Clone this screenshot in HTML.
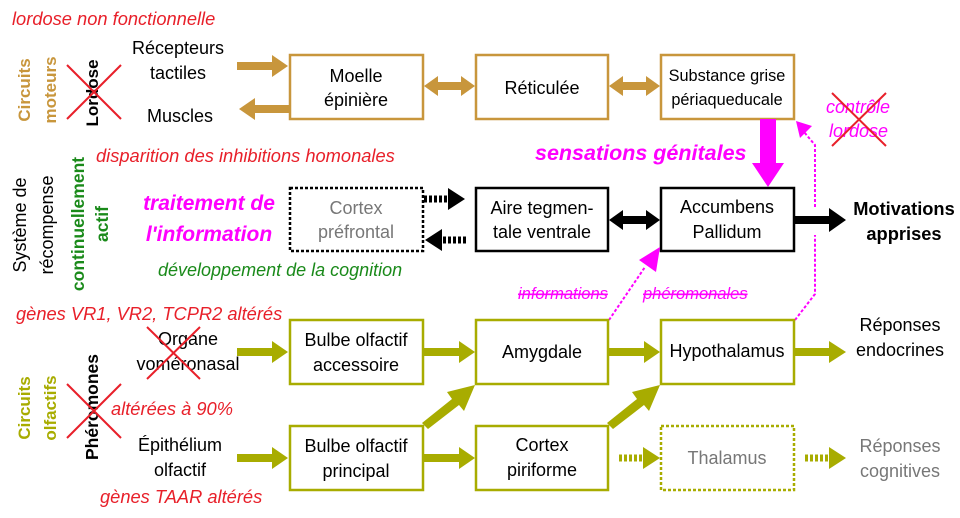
<!DOCTYPE html>
<html><head><meta charset="utf-8"><style>
html,body{margin:0;padding:0;background:#fff;}
svg{display:block;}
text{font-family:"Liberation Sans",Arial,sans-serif;}
</style></head><body>
<svg width="960" height="518" viewBox="0 0 960 518" xmlns="http://www.w3.org/2000/svg">
<g font-size="18">
<text x="12" y="25" fill="#e8202a" font-style="italic" font-size="18.3">lordose non fonctionnelle</text>

<text transform="translate(30,90) rotate(-90)" text-anchor="middle" fill="#c8963c" font-weight="bold" font-size="17">Circuits</text>
<text transform="translate(56,90) rotate(-90)" text-anchor="middle" fill="#c8963c" font-weight="bold" font-size="17">moteurs</text>
<text transform="translate(98,93) rotate(-90)" text-anchor="middle" fill="#000" font-weight="bold" font-size="17">Lordose</text>
<line x1="67" y1="65" x2="121" y2="119" stroke="#e8202a" stroke-width="2"/>
<line x1="121" y1="65" x2="67" y2="119" stroke="#e8202a" stroke-width="2"/>

<text x="178" y="54" text-anchor="middle">Récepteurs</text>
<text x="178" y="79" text-anchor="middle">tactiles</text>
<text x="180" y="122" text-anchor="middle">Muscles</text>

<g fill="#fff" stroke="#c8963c" stroke-width="2.5">
<rect x="290" y="55" width="133" height="64"/>
<rect x="476" y="55" width="132" height="64"/>
<rect x="661" y="55" width="133" height="64"/>
</g>
<text x="356" y="82" text-anchor="middle">Moelle</text>
<text x="356" y="106" text-anchor="middle">épinière</text>
<text x="542" y="94" text-anchor="middle">Réticulée</text>
<text x="727" y="81" text-anchor="middle" font-size="16.3">Substance grise</text>
<text x="727" y="105" text-anchor="middle" font-size="16.3">périaqueducale</text>

<g fill="#c8963c">
<polygon points="237,62 272,62 272,55 288,66 272,77 272,70 237,70"/>
<polygon points="290,105 255,105 255,98 239,109 255,120 255,113 290,113"/>
<polygon points="424,86 438,76 438,82 461,82 461,76 475,86 461,96 461,90 438,90 438,96"/>
<polygon points="609,86 623,76 623,82 646,82 646,76 660,86 646,96 646,90 623,90 623,96"/>
</g>

<text x="96" y="162" fill="#e8202a" font-style="italic" font-size="18.3">disparition des inhibitions homonales</text>
<text x="535" y="160" fill="#ff00ff" font-style="italic" font-weight="bold" font-size="21.5">sensations génitales</text>
<polygon points="760,119 776,119 776,163 784,163 768,187 752,163 760,163" fill="#ff00ff"/>

<text x="826" y="113" fill="#ff00ff" font-style="italic" font-size="18">contrôle</text>
<text x="829" y="137" fill="#ff00ff" font-style="italic" font-size="18">lordose</text>
<line x1="832" y1="93" x2="886" y2="146" stroke="#e8202a" stroke-width="2"/>
<line x1="886" y1="93" x2="832" y2="146" stroke="#e8202a" stroke-width="2"/>

<text transform="translate(26,225) rotate(-90)" text-anchor="middle" font-size="18">Système de</text>
<text transform="translate(53,225) rotate(-90)" text-anchor="middle" font-size="18">récompense</text>
<text transform="translate(84,224) rotate(-90)" text-anchor="middle" fill="#1a8a1a" font-weight="bold" font-size="17.5">continuellement</text>
<text transform="translate(108,224) rotate(-90)" text-anchor="middle" fill="#1a8a1a" font-weight="bold" font-size="17.5">actif</text>

<text x="209" y="210" text-anchor="middle" fill="#ff00ff" font-style="italic" font-weight="bold" font-size="21">traitement de</text>
<text x="209" y="241" text-anchor="middle" fill="#ff00ff" font-style="italic" font-weight="bold" font-size="21">l'information</text>
<text x="158" y="276" fill="#1a8a1a" font-style="italic" font-size="18">développement de la cognition</text>

<rect x="290" y="188" width="133" height="63" fill="#fff" stroke="#000" stroke-width="2.5" stroke-dasharray="3,2"/>
<rect x="476" y="188" width="132" height="63" fill="#fff" stroke="#000" stroke-width="2.5"/>
<rect x="661" y="188" width="133" height="63" fill="#fff" stroke="#000" stroke-width="2.5"/>
<text x="356" y="214" text-anchor="middle" fill="#777">Cortex</text>
<text x="356" y="238" text-anchor="middle" fill="#777">préfrontal</text>
<text x="542" y="214" text-anchor="middle">Aire tegmen-</text>
<text x="542" y="238" text-anchor="middle">tale ventrale</text>
<text x="727" y="213" text-anchor="middle">Accumbens</text>
<text x="727" y="238" text-anchor="middle">Pallidum</text>

<line x1="424" y1="199" x2="448" y2="199" stroke="#000" stroke-width="7" stroke-dasharray="3,2"/>
<polygon points="448,188 465,199 448,210" fill="#000"/>
<line x1="466" y1="240" x2="442" y2="240" stroke="#000" stroke-width="7" stroke-dasharray="3,2"/>
<polygon points="442,229 425,240 442,251" fill="#000"/>
<polygon points="609,220 623,210 623,216 646,216 646,210 660,220 646,230 646,224 623,224 623,230" fill="#000"/>
<polygon points="795,216 829,216 829,208 846,220 829,232 829,224 795,224" fill="#000"/>
<text x="904" y="215" text-anchor="middle" font-weight="bold" font-size="18.3">Motivations</text>
<text x="904" y="240" text-anchor="middle" font-weight="bold" font-size="18.3">apprises</text>

<polyline points="609,320 645,267" fill="none" stroke="#ff00ff" stroke-width="2" stroke-dasharray="3,2"/>
<polygon points="660,247 656,272 639,260" fill="#ff00ff"/>
<polyline points="795,320 815,294 815,235" fill="none" stroke="#ff00ff" stroke-width="2" stroke-dasharray="3,2"/>
<polyline points="815,207 815,145 804,132" fill="none" stroke="#ff00ff" stroke-width="2" stroke-dasharray="3,2"/>
<polygon points="796,121 812,126 800,138" fill="#ff00ff"/>
<text x="518" y="299" fill="#ff00ff" font-style="italic" font-size="16.5" text-decoration="line-through">informations</text>
<text x="643" y="299" fill="#ff00ff" font-style="italic" font-size="16.5" text-decoration="line-through">phéromonales</text>

<text x="16" y="320" fill="#e8202a" font-style="italic" font-size="18.3">gènes VR1, VR2, TCPR2 altérés</text>
<text x="188" y="345" text-anchor="middle">Organe</text>
<text x="188" y="370" text-anchor="middle">voméronasal</text>
<line x1="147" y1="327" x2="200" y2="379" stroke="#e8202a" stroke-width="2"/>
<line x1="200" y1="327" x2="147" y2="379" stroke="#e8202a" stroke-width="2"/>

<text transform="translate(30,408) rotate(-90)" text-anchor="middle" fill="#a8ac00" font-weight="bold" font-size="17">Circuits</text>
<text transform="translate(56,408) rotate(-90)" text-anchor="middle" fill="#a8ac00" font-weight="bold" font-size="17">olfactifs</text>
<text transform="translate(98,407) rotate(-90)" text-anchor="middle" fill="#000" font-weight="bold" font-size="17.5">Phéromones</text>
<line x1="67" y1="384" x2="121" y2="438" stroke="#e8202a" stroke-width="2"/>
<line x1="121" y1="384" x2="67" y2="438" stroke="#e8202a" stroke-width="2"/>
<text x="111" y="415" fill="#e8202a" font-style="italic" font-size="18.3">altérées à 90%</text>
<text x="180" y="451" text-anchor="middle">Épithélium</text>
<text x="180" y="476" text-anchor="middle">olfactif</text>
<text x="100" y="503" fill="#e8202a" font-style="italic" font-size="18.3">gènes TAAR altérés</text>

<g fill="#fff" stroke="#a8ac00" stroke-width="2.5">
<rect x="290" y="320" width="133" height="64"/>
<rect x="476" y="320" width="132" height="64"/>
<rect x="661" y="320" width="133" height="64"/>
<rect x="290" y="426" width="133" height="64"/>
<rect x="476" y="426" width="132" height="64"/>
<rect x="661" y="426" width="133" height="64" stroke-dasharray="3,2"/>
</g>
<text x="356" y="346" text-anchor="middle">Bulbe olfactif</text>
<text x="356" y="371" text-anchor="middle">accessoire</text>
<text x="542" y="358" text-anchor="middle">Amygdale</text>
<text x="727" y="357" text-anchor="middle">Hypothalamus</text>
<text x="356" y="452" text-anchor="middle">Bulbe olfactif</text>
<text x="356" y="477" text-anchor="middle">principal</text>
<text x="542" y="451" text-anchor="middle">Cortex</text>
<text x="542" y="476" text-anchor="middle">piriforme</text>
<text x="727" y="464" text-anchor="middle" fill="#777">Thalamus</text>
<text x="900" y="331" text-anchor="middle">Réponses</text>
<text x="900" y="356" text-anchor="middle">endocrines</text>
<text x="900" y="452" text-anchor="middle" fill="#777">Réponses</text>
<text x="900" y="477" text-anchor="middle" fill="#777">cognitives</text>

<g fill="#a8ac00">
<polygon points="237,348 272,348 272,341 288,352 272,363 272,356 237,356"/>
<polygon points="237,454 272,454 272,447 288,458 272,469 272,462 237,462"/>
<polygon points="424,348 459,348 459,341 475,352 459,363 459,356 424,356"/>
<polygon points="609,348 644,348 644,341 660,352 644,363 644,356 609,356"/>
<polygon points="795,348 829,348 829,341 846,352 829,363 829,356 795,356"/>
<polygon points="424,454 459,454 459,447 475,458 459,469 459,462 424,462"/>
<polygon points="422,423 452,399 447,392 475,385 464,411 459,405 428,429"/>
<polygon points="607,423 637,399 632,392 660,385 649,411 644,405 613,429"/>
<polygon points="643,447 660,458 643,469"/>
<polygon points="829,447 846,458 829,469"/>
</g>
<line x1="619" y1="458" x2="643" y2="458" stroke="#a8ac00" stroke-width="7" stroke-dasharray="3,2"/>
<line x1="805" y1="458" x2="829" y2="458" stroke="#a8ac00" stroke-width="7" stroke-dasharray="3,2"/>
</g>
</svg>
</body></html>
